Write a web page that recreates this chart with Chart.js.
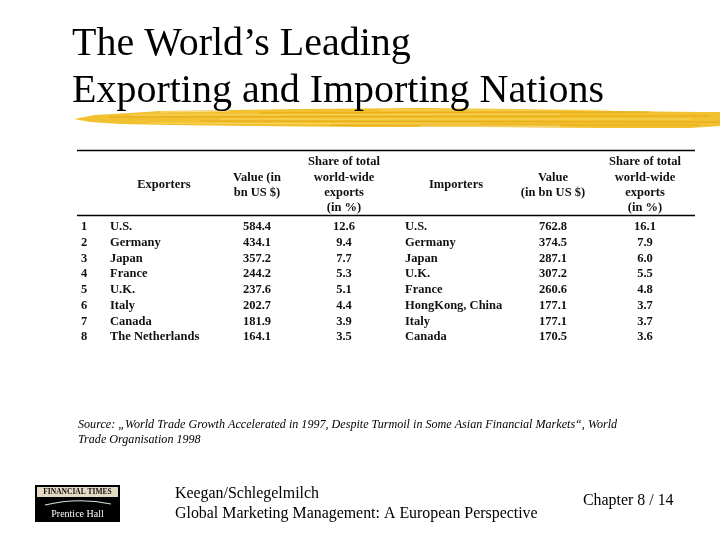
<!DOCTYPE html>
<html>
<head>
<meta charset="utf-8">
<script src="https://cdn.jsdelivr.net/npm/chart.js@4.4.0/dist/chart.umd.min.js"></script>
<style>
  html, body { margin: 0; padding: 0; background: #fff; }
  canvas { display: block; }
</style>
</head>
<body>
<canvas id="tabela" width="720" height="540"></canvas>
<script>
// dados da tabela
const ranks = [1, 2, 3, 4, 5, 6, 7, 8]
const exporters = ['U.S.', 'Germany', 'Japan', 'France', 'U.K.', 'Italy', 'Canada', 'The Netherlands']
const exportValues = [584.4, 434.1, 357.2, 244.2, 237.6, 202.7, 181.9, 164.1]
const exportShares = [12.6, 9.4, 7.7, 5.3, 5.1, 4.4, 3.9, 3.5]
const importers = ['U.S.', 'Germany', 'Japan', 'U.K.', 'France', 'HongKong, China', 'Italy', 'Canada']
const importValues = [762.8, 374.5, 287.1, 307.2, 260.6, 177.1, 177.1, 170.5]
const importShares = [16.1, 7.9, 6.0, 5.5, 4.8, 3.7, 3.7, 3.6]

const headers = [
    ['Exporters'],
    ['Value (in', 'bn US $)'],
    ['Share of total', 'world-wide', 'exports', '(in %)'],
    ['Importers'],
    ['Value', '(in bn US $)'],
    ['Share of total', 'world-wide', 'exports', '(in %)']
]

const titleLines = ['The World\u2019s Leading', 'Exporting and Importing Nations']
const sourceLines = [
    'Source: \u201EWorld Trade Growth Accelerated in 1997, Despite Turmoil in Some Asian Financial Markets\u201C, World',
    'Trade Organisation 1998'
]
const footerLines = ['Keegan/Schlegelmilch', 'Global Marketing Management: A European Perspective']
const chapterText = 'Chapter 8 / 14'

// colunas (posição no eixo x da tabela)
const columns = [
    { labels: ranks.map(String), x: 4, align: 'left' },
    { labels: exporters, x: 33, align: 'left', head: 0, headX: 87 },
    { labels: exportValues.map(v => v.toFixed(1)), x: 180, align: 'center', head: 1, headX: 180 },
    { labels: exportShares.map(v => v.toFixed(1)), x: 267, align: 'center', head: 2, headX: 267 },
    { labels: importers, x: 328, align: 'left', head: 3, headX: 379 },
    { labels: importValues.map(v => v.toFixed(1)), x: 476, align: 'center', head: 4, headX: 476 },
    { labels: importShares.map(v => v.toFixed(1)), x: 568, align: 'center', head: 5, headX: 568 }
]

const ctx = document.getElementById('tabela').getContext('2d')

function fitFont(c, text, style, base, family, width) {
    c.font = `${style} ${base}px ${family}`
    const w = c.measureText(text).width
    const size = base * width / w
    c.font = `${style} ${size.toFixed(2)}px ${family}`
}

// pincelada amarela sob o título
function drawBrush(c) {
    c.save()
    c.fillStyle = '#f2c12f'
    c.beginPath()
    c.moveTo(74, 119)
    c.lineTo(95, 115)
    c.lineTo(130, 113)
    c.lineTo(160, 111)
    c.lineTo(230, 110)
    c.lineTo(300, 109)
    c.lineTo(420, 108)
    c.lineTo(520, 109)
    c.lineTo(620, 111)
    c.lineTo(700, 112)
    c.lineTo(720, 112)
    c.lineTo(720, 126)
    c.lineTo(690, 128)
    c.lineTo(600, 128)
    c.lineTo(480, 127)
    c.lineTo(360, 127)
    c.lineTo(250, 126)
    c.lineTo(170, 125)
    c.lineTo(120, 124)
    c.lineTo(90, 122)
    c.closePath()
    c.fill()
    const streaks = [
        ['rgba(228, 165, 20, 0.6)', 1.5, [[110, 117, 710, 116], [200, 121, 720, 122], [260, 113, 650, 112], [330, 125, 700, 125]]],
        ['rgba(250, 220, 110, 0.75)', 1.2, [[130, 115, 560, 114], [220, 119, 690, 119], [380, 110, 610, 110], [150, 123, 480, 124]]],
        ['rgba(255, 255, 255, 0.45)', 1, [[420, 126, 560, 126], [600, 110, 680, 111], [160, 112, 230, 111]]]
    ]
    streaks.forEach(([color, w, segs]) => {
        c.strokeStyle = color
        c.lineWidth = w
        segs.forEach(s => { c.beginPath(); c.moveTo(s[0], s[1]); c.lineTo(s[2], s[3]); c.stroke() })
    })
    c.restore()
}

function drawLogo(c) {
    c.save()
    c.fillStyle = '#000'
    c.fillRect(35, 485, 85, 37)
    c.fillStyle = '#e4d9c2'
    c.fillRect(37, 487, 81, 10)
    c.fillStyle = '#111'
    c.font = 'bold 7.5px "Liberation Serif"'
    c.textAlign = 'center'
    c.textBaseline = 'middle'
    c.fillText('FINANCIAL TIMES', 77.5, 492.5)
    c.strokeStyle = '#ddd'
    c.lineWidth = 1.2
    c.beginPath()
    c.moveTo(45, 505)
    c.quadraticCurveTo(78, 497, 111, 504)
    c.stroke()
    c.fillStyle = '#fff'
    c.font = '10px "Liberation Serif"'
    c.fillText('Prentice Hall', 77.5, 514)
    c.restore()
}

const slidePlugin = {
    id: 'slide',
    beforeDraw(chart) {
        const c = chart.ctx
        c.save()
        c.fillStyle = '#fff'
        c.fillRect(0, 0, chart.width, chart.height)
        c.restore()
    },
    afterDraw(chart) {
        const c = chart.ctx
        const area = chart.chartArea
        const xs = chart.scales.x
        c.save()

        // título
        drawBrush(c)
        c.fillStyle = '#000'
        c.textAlign = 'left'
        c.textBaseline = 'alphabetic'
        fitFont(c, titleLines[1], 'normal', 40, '"Liberation Serif"', 532)
        c.fillText(titleLines[0], 72, 55)
        c.fillText(titleLines[1], 72, 102)

        // linhas da tabela
        c.strokeStyle = '#000'
        c.lineWidth = 1.3
        c.beginPath()
        c.moveTo(area.left, 150.5); c.lineTo(area.right, 150.5)
        c.moveTo(area.left, 215.5); c.lineTo(area.right, 215.5)
        c.stroke()

        // cabeçalhos
        c.fillStyle = '#111'
        c.font = 'bold 12.5px "Liberation Serif"'
        c.textAlign = 'center'
        c.textBaseline = 'middle'
        columns.forEach(col => {
            if (col.head === undefined) return
            const lines = headers[col.head]
            const cx = xs.getPixelForValue(col.headX)
            const y0 = 185 - (lines.length - 1) * 15.4 / 2
            lines.forEach((t, i) => c.fillText(t, cx, y0 + i * 15.4))
        })

        // células, na posição dos pontos
        chart.data.datasets.forEach((ds, i) => {
            const meta = chart.getDatasetMeta(i)
            const col = columns[i]
            c.textAlign = col.align
            meta.data.forEach((pt, j) => {
                c.fillText(col.labels[j], pt.x, pt.y)
            })
        })

        // fonte
        c.fillStyle = '#000'
        c.textAlign = 'left'
        c.textBaseline = 'alphabetic'
        fitFont(c, sourceLines[0], 'italic', 11, '"Liberation Serif"', 539)
        c.fillText(sourceLines[0], 78, 428)
        c.fillText(sourceLines[1], 78, 443)

        // rodapé
        drawLogo(c)
        c.fillStyle = '#000'
        fitFont(c, footerLines[1], 'normal', 14, '"Liberation Serif"', 363)
        c.fillText(footerLines[0], 175, 498)
        c.fillText(footerLines[1], 175, 518)
        c.fillText(chapterText, 583, 505)

        c.restore()
    }
}

new Chart(ctx, {
    type: 'scatter',
    data: {
        datasets: columns.map(col => ({
            data: col.labels.map((_, j) => ({ x: col.x, y: j })),
            pointRadius: 0,
            pointHoverRadius: 0
        }))
    },
    options: {
        responsive: false,
        animation: false,
        devicePixelRatio: 1,
        events: [],
        layout: { padding: { left: 77, right: 25, top: 219, bottom: 195 } },
        plugins: { legend: { display: false }, tooltip: { enabled: false } },
        scales: {
            x: { type: 'linear', min: 0, max: 618, display: false },
            y: { type: 'linear', min: -0.5, max: 7.5, reverse: true, display: false }
        }
    },
    plugins: [slidePlugin]
})
</script>
</body>
</html>
